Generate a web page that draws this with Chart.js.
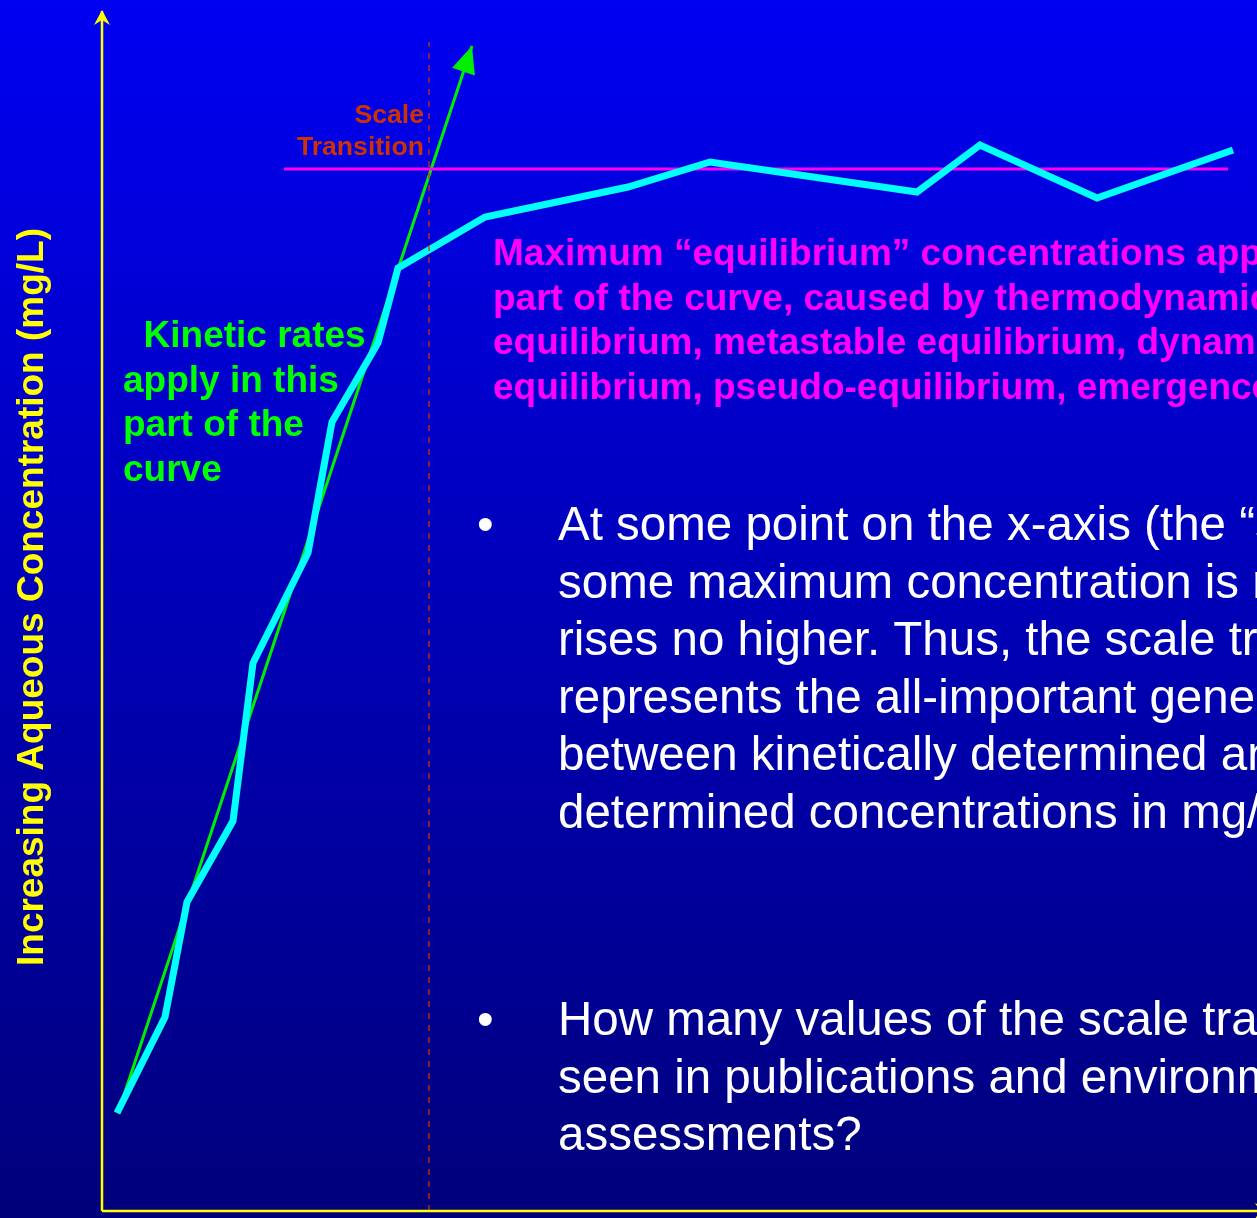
<!DOCTYPE html>
<html lang="en">
<head>
<meta charset="UTF-8">
<title>Scale Transition</title>
<script src="https://cdn.jsdelivr.net/npm/chart.js"></script>
<style>
  html, body {
    margin: 0;
    padding: 0;
    background: #00007c;
  }
  #wrap {
    width: 1257px;
    height: 1218px;
    position: relative;
  }
</style>
</head>
<body>
<div id="wrap">
  <canvas id="chart"></canvas>
</div>
<script>
// measured concentration curve (x = distance along axis, y = concentration)
const curveX = [15, 63, 85, 131, 151, 206, 230, 276, 296, 383, 526, 608, 815, 878, 995, 1131];
const curveY = [98, 194, 309, 390, 548, 658, 789, 868, 943, 994, 1024, 1049, 1019, 1066, 1013, 1061];

// kinetic trend (straight arrow)
const kineticX = [16, 370];
const kineticY = [98, 1165];

// maximum "equilibrium" level
const equilX = [182, 1126];
const equilY = [1042, 1042];

// scale transition position
const transitionX = [327, 327];
const transitionY = [0, 1169];

// axes
const axisYX = [0, 0];
const axisYY = [0, 1200];
const axisXX = [0, 1160];
const axisXY = [0, 0];

const yTitle = 'Increasing Aqueous Concentration (mg/L)';
const scaleLabel = ['Scale', 'Transition'];
const kineticLabel = ['  Kinetic rates', 'apply in this', 'part of the', 'curve'];
const equilLabel = [
  'Maximum \u201cequilibrium\u201d concentrations apply in this',
  'part of the curve, caused by thermodynamic',
  'equilibrium, metastable equilibrium, dynamic',
  'equilibrium, pseudo-equilibrium, emergence,'
];
const bullet1 = [
  'At some point on the x-axis (the \u201cscale transition\u201d),',
  'some maximum concentration is reached and',
  'rises no higher. Thus, the scale transition',
  'represents the all-important generic boundary',
  'between kinetically determined and thermodynamically',
  'determined concentrations in mg/L.'
];
const bullet2 = [
  'How many values of the scale transition have you',
  'seen in publications and environmental',
  'assessments?'
];

function pts(xs, ys) {
  return xs.map((x, i) => ({ x: x, y: ys[i] }));
}

const FONT = '"Liberation Sans", Arial, sans-serif';

const background = {
  id: 'background',
  beforeDraw(chart) {
    const ctx = chart.ctx;
    const g = ctx.createLinearGradient(0, 0, 0, chart.height);
    g.addColorStop(0, '#0000f2');
    g.addColorStop(1, '#00007b');
    ctx.save();
    ctx.fillStyle = g;
    ctx.fillRect(0, 0, chart.width, chart.height);
    ctx.restore();
  }
};

function arrowHead(ctx, tipX, tipY, angle, len, half, notch, color) {
  ctx.save();
  ctx.translate(tipX, tipY);
  ctx.rotate(angle);
  ctx.fillStyle = color;
  ctx.beginPath();
  ctx.moveTo(0, 0);
  ctx.lineTo(-len, -half);
  ctx.lineTo(-len + notch, 0);
  ctx.lineTo(-len, half);
  ctx.closePath();
  ctx.fill();
  ctx.restore();
}

const decorations = {
  id: 'decorations',
  afterDatasetsDraw(chart) {
    const ctx = chart.ctx;
    const sx = chart.scales.x, sy = chart.scales.y;

    // arrow on kinetic line
    const x0 = sx.getPixelForValue(kineticX[0]), y0 = sy.getPixelForValue(kineticY[0]);
    const x1 = sx.getPixelForValue(kineticX[1]), y1 = sy.getPixelForValue(kineticY[1]);
    const ang = Math.atan2(y1 - y0, x1 - x0);
    arrowHead(ctx, x1, y1, ang, 27, 12, 0, '#00ee00');

    // axis arrows
    const ox = sx.getPixelForValue(0);
    arrowHead(ctx, ox, sy.getPixelForValue(axisYY[1]) - 1, -Math.PI / 2, 15, 8, 5, '#ffff00');
    arrowHead(ctx, sx.getPixelForValue(axisXX[1]) + 8, sy.getPixelForValue(0), 0, 15, 8, 5, '#ffff00');

    ctx.save();
    ctx.textBaseline = 'alphabetic';

    // y axis title
    ctx.save();
    ctx.translate(43, 597);
    ctx.rotate(-Math.PI / 2);
    ctx.font = 'bold 37px ' + FONT;
    ctx.fillStyle = '#ffff00';
    ctx.textAlign = 'center';
    ctx.fillText(yTitle, 0, 0);
    ctx.restore();

    // scale transition label
    ctx.font = 'bold 26.6px ' + FONT;
    ctx.fillStyle = '#cc3300';
    ctx.textAlign = 'right';
    ctx.fillText(scaleLabel[0], 424, 123);
    ctx.fillText(scaleLabel[1], 424, 155);

    // kinetic label
    ctx.font = 'bold 37px ' + FONT;
    ctx.fillStyle = '#00ff00';
    ctx.textAlign = 'left';
    kineticLabel.forEach((t, i) => ctx.fillText(t, 123, 347 + i * 44.5));

    // equilibrium label
    ctx.fillStyle = '#ff00ff';
    equilLabel.forEach((t, i) => ctx.fillText(t, 493, 265 + i * 44.5));

    // bullets
    ctx.font = '47.5px ' + FONT;
    ctx.fillStyle = '#ffffff';
    ctx.fillText('\u2022', 477, 540);
    bullet1.forEach((t, i) => ctx.fillText(t, 558, 540 + i * 57.5));
    ctx.fillText('\u2022', 477, 1035);
    bullet2.forEach((t, i) => ctx.fillText(t, 558, 1035 + i * 57.5));

    ctx.restore();
  }
};

new Chart(document.getElementById('chart'), {
  type: 'scatter',
  data: {
    datasets: [
      { data: pts(axisYX, axisYY), showLine: true, borderColor: '#ffff00', borderWidth: 2.5, pointRadius: 0 },
      { data: pts(axisXX, axisXY), showLine: true, borderColor: '#ffff00', borderWidth: 2.5, pointRadius: 0 },
      { data: pts(transitionX, transitionY), showLine: true, borderColor: '#cc3300', borderWidth: 1.3, borderDash: [6, 6], pointRadius: 0 },
      { data: pts(curveX, curveY), showLine: true, borderColor: '#00ffff', borderWidth: 7, pointRadius: 0, borderJoinStyle: 'miter', borderCapStyle: 'butt' },
      { data: pts(equilX, equilY), showLine: true, borderColor: '#ff00ff', borderWidth: 3, pointRadius: 0 },
      { data: pts(kineticX, kineticY), showLine: true, borderColor: '#00ee00', borderWidth: 3, pointRadius: 0 }
    ]
  },
  options: {
    responsive: true,
    maintainAspectRatio: false,
    animation: false,
    layout: { padding: 0 },
    plugins: {
      legend: { display: false },
      tooltip: { enabled: false }
    },
    scales: {
      x: { type: 'linear', min: -102, max: 1155, display: false },
      y: { type: 'linear', min: -7, max: 1211, display: false }
    }
  },
  plugins: [background, decorations]
});
</script>
</body>
</html>
